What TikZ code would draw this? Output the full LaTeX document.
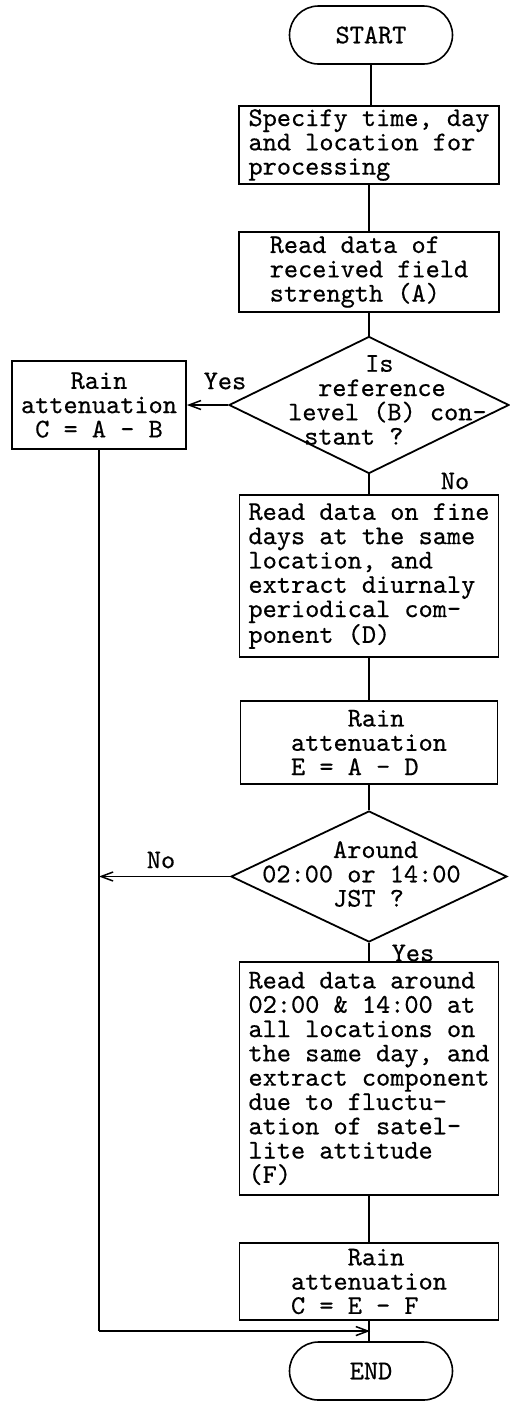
\documentclass[tikz,border=0pt]{standalone}
\usepackage{fontspec}
\setmonofont{lmmono10-regular.otf}[FakeBold=0.5]
\usetikzlibrary{shapes.geometric,arrows.meta,calc}
\begin{document}
\begin{tikzpicture}[x=1pt,y=-1pt,
  every node/.style={font=\ttfamily\fontsize{27}{24.3}\selectfont},
  procbox/.style={draw,line width=1.8pt,rectangle,align=left,inner sep=0pt},
  term/.style={draw,line width=1.6pt,rectangle,rounded corners=29pt,minimum width=163pt,minimum height=58pt},
  decision/.style={draw,line width=1.8pt,diamond,inner sep=0pt},
  conn/.style={line width=1.4pt},
  arr/.style={conn,-{Straight Barb[length=12pt,width=9pt,line width=1.5pt]}},
  lbl/.style={inner sep=0pt}
]
\useasboundingbox (0,0) rectangle (510,1401);

\node[term] (start) at (371,35) {START};
\node[procbox,minimum width=260pt,minimum height=78pt] (b1) at (369,145) {Specify time, day\\and location for\\processing};
\node[procbox,minimum width=260pt,minimum height=80pt] (b2) at (369,272) {Read data of\\received field\\strength (A)};
\node[decision,minimum width=280pt,minimum height=137pt] (d1) at (369,405) {};
\node[lbl,align=left,anchor=west] (d1t) at (288,400) {\hspace*{77pt}Is\\\hspace*{30pt}reference\\level (B) con-\\\hspace*{16pt}stant ?};
\node[procbox,align=center,minimum width=174pt,minimum height=88pt] (ra) at (99,405) {Rain\\attenuation\\C = A - B};
\node[procbox,minimum width=259pt,minimum height=162pt] (bD) at (369,576) {Read data on fine\\days at the same\\location, and\\extract diurnaly\\periodical com-\\ponent (D)};
\node[procbox,minimum width=257pt,minimum height=83pt] (bE) at (369,742.5) {\hphantom{xxxx}Rain\\attenuation\\E = A - D};
\node[decision,minimum width=276pt,minimum height=131pt] (d2) at (369,876.5) {};
\node[lbl,align=left,anchor=west] (d2t) at (262,874) {\hphantom{00000}Around\\02:00 or 14:00\\\hphantom{00000}JST ?};
\node[procbox,minimum width=259pt,minimum height=233pt] (bF) at (369,1078.5) {Read data around\\02:00 \& 14:00 at\\all locations on\\the same day, and\\extract component\\due to fluctu-\\ation of satel-\\lite attitude\\(F)};
\node[procbox,minimum width=259pt,minimum height=77pt] (bC) at (369,1281.5) {\hphantom{xxxx}Rain\\attenuation\\C = E - F};
\node[term] (end) at (371,1371) {END};

\node[lbl] (yes1) at (225,381) {Yes};
\node[lbl] (no1) at (455,481) {No};
\node[lbl] (no2) at (161,860) {No};
\node[lbl] (yes2) at (413,953) {Yes};

\coordinate (j1) at (ra.south |- d2.west);
\coordinate (j3) at ($(bC.south)!0.5!(end.north)$);
\coordinate (j2) at (ra.south |- j3);

\draw[conn] (start.south) -- (start.south |- b1.north);
\draw[conn] (b1) -- (b2);
\draw[conn] (b2) -- (d1);
\draw[arr] (d1.west) -- (d1.west -| ra.east);
\draw[conn] (d1) -- (bD);
\draw[conn] (bD) -- (bE);
\draw[conn] (bE) -- (d2);
\draw[arr] (d2.west) -- (j1);
\draw[conn] (d2) -- (bF);
\draw[conn] (bF) -- (bC);
\draw[conn] (bC.south) -- (bC.south |- end.north);
\draw[conn] (ra.south) -- (j2);
\draw[arr] (j2) -- (j3);
\end{tikzpicture}
\end{document}
